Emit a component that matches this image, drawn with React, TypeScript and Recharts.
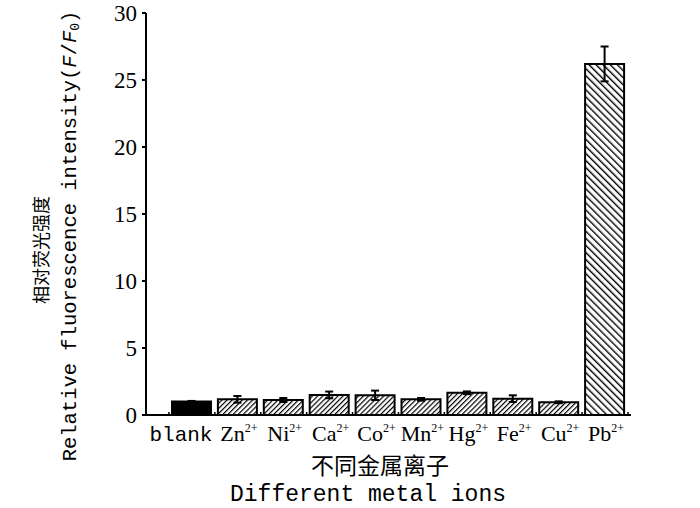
import React from 'react'
import { BarChart, Bar, XAxis, YAxis, Cell, ErrorBar, Label } from 'recharts'

// ions tested, their charge, F/F0 and error
const ions = ['blank', 'Zn', 'Ni', 'Ca', 'Co', 'Mn', 'Hg', 'Fe', 'Cu', 'Pb']
const charges = ['', '2+', '2+', '2+', '2+', '2+', '2+', '2+', '2+', '2+']
const intensity = [1.0, 1.17, 1.12, 1.5, 1.47, 1.17, 1.66, 1.22, 0.95, 26.2]
const errors = [0.05, 0.25, 0.15, 0.25, 0.35, 0.1, 0.1, 0.25, 0.07, 1.3]
const yTicks = [0, 5, 10, 15, 20, 25, 30]

const data = ions.map((ion, i) => ({
    ion,
    charge: charges[i],
    value: intensity[i],
    err: errors[i],
}))

const serif = '"Liberation Serif", "Times New Roman", serif'
const mono = '"Liberation Mono", "Courier New", monospace'
const cjk = '"Noto Sans CJK SC", sans-serif'

const fillFor = (i: number) => {
    if (i === 0) return '#000'
    if (i === ions.length - 1) return 'url(#hatchBack)'
    return 'url(#hatchFwd)'
}

const IonTick = (props: any) => {
    const { x, y, payload, index } = props
    const d = data[index] || data[payload.index]
    const half = 23
    return (
        <g>
            <line x1={x - half} y1={y} x2={x - half} y2={y - 3} stroke="#000" strokeWidth={1.5} />
            {index === ions.length - 1 && (
                <line x1={x + half} y1={y} x2={x + half} y2={y - 3} stroke="#000" strokeWidth={1.5} />
            )}
            {d.charge === '' ? (
                <text x={x - 11} y={y + 26} textAnchor="middle" fontFamily={mono} fontSize={21} fill="#000">
                    {d.ion}
                </text>
            ) : (
                <text x={x + 1} y={y + 26} textAnchor="middle" fontFamily={serif} fontSize={22} fill="#000">
                    {d.ion}
                    <tspan fontSize={12} dy={-9}>
                        {d.charge}
                    </tspan>
                </text>
            )}
        </g>
    )
}

export default function App() {
    return (
        <div style={{ position: 'absolute', left: 0, top: 0, width: 700, height: 508, background: '#fff' }}>
            <BarChart
                width={700}
                height={508}
                data={data}
                margin={{ top: 13, right: 69, left: 0, bottom: 0 }}
                barSize={39}
            >
                <defs>
                    <pattern id="hatchFwd" patternUnits="userSpaceOnUse" width={3.6} height={3.6} patternTransform="rotate(45)">
                        <rect width={3.6} height={3.6} fill="#fff" />
                        <line x1={0} y1={0} x2={0} y2={3.6} stroke="#000" strokeWidth={2.4} />
                    </pattern>
                    <pattern id="hatchBack" patternUnits="userSpaceOnUse" width={5} height={5} patternTransform="rotate(-45)">
                        <rect width={5} height={5} fill="#fff" />
                        <line x1={0} y1={0} x2={0} y2={5} stroke="#000" strokeWidth={2.8} />
                    </pattern>
                </defs>
                <XAxis
                    dataKey="ion"
                    height={93}
                    padding={{ left: 23, right: 3 }}
                    axisLine={{ stroke: '#000', strokeWidth: 2 }}
                    tickLine={false}
                    tickSize={0}
                    tickMargin={0}
                    interval={0}
                    tick={<IonTick />}
                >
                    <Label
                        content={() => (
                            <g>
                                <text x={380} y={474} textAnchor="middle" fontFamily={cjk} fontSize={23} fill="#000">
                                    不同金属离子
                                </text>
                                <text x={368} y={501} textAnchor="middle" fontFamily={mono} fontSize={23} fill="#000">
                                    Different metal ions
                                </text>
                            </g>
                        )}
                    />
                </XAxis>
                <YAxis
                    width={146}
                    domain={[0, 30]}
                    ticks={yTicks}
                    interval={0}
                    axisLine={{ stroke: '#000', strokeWidth: 2 }}
                    tickLine={{ stroke: '#000', strokeWidth: 2 }}
                    tickSize={4}
                    tickMargin={5}
                    tick={{ fontFamily: serif, fontSize: 23, fill: '#000' }}
                >
                    <Label
                        content={() => (
                            <g>
                                <text
                                    x={40}
                                    y={250}
                                    transform="rotate(-90, 40, 250)"
                                    textAnchor="middle"
                                    dominantBaseline="central"
                                    fontFamily={cjk}
                                    fontSize={18}
                                    fill="#000"
                                >
                                    相对荧光强度
                                </text>
                                <text
                                    x={70}
                                    y={236}
                                    transform="rotate(-90, 70, 236)"
                                    textAnchor="middle"
                                    dominantBaseline="central"
                                    fontFamily={mono}
                                    fontSize={20.5}
                                    fill="#000"
                                >
                                    Relative fluorescence intensity(
                                    <tspan fontStyle="italic">F</tspan>/<tspan fontStyle="italic">F</tspan>
                                    <tspan fontSize={13} dy={5}>0</tspan>
                                    <tspan dy={-5}>)</tspan>
                                </text>
                            </g>
                        )}
                    />
                </YAxis>
                <Bar dataKey="value" stroke="#000" strokeWidth={2} isAnimationActive={false}>
                    {data.map((d, i) => (
                        <Cell key={d.ion} fill={fillFor(i)} />
                    ))}
                    <ErrorBar dataKey="err" width={4} stroke="#000" strokeWidth={2} direction="y" />
                </Bar>
            </BarChart>
        </div>
    )
}
